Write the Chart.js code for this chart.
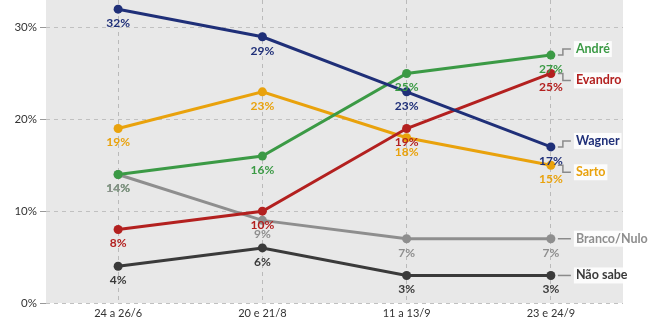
<!DOCTYPE html>
<html>
<head>
<meta charset="utf-8">
<script src="https://cdn.jsdelivr.net/npm/chart.js@4/dist/chart.umd.min.js"></script>
<style>
  html, body { margin: 0; padding: 0; background: #fff; }
  #wrap { width: 657px; height: 322px; position: relative; }
</style>
</head>
<body>
<div id="wrap"><canvas id="poll-chart"></canvas></div>
<script>
/* ── DATA ───────────────────────────────────────────── */
var ROUNDS      = ['24 a 26/6', '20 e 21/8', '11 a 13/9', '23 e 24/9'];
var Y_TICKS     = [0, 10, 20, 30];
var SERIES_NAMES = ['Wagner', 'André', 'Evandro', 'Sarto', 'Branco/Nulo', 'Não sabe'];
var WAGNER      = [32, 29, 23, 17];
var ANDRE       = [14, 16, 25, 27];
var EVANDRO     = [8, 10, 19, 25];
var SARTO       = [19, 23, 18, 15];
var BRANCO_NULO = [14, 9, 7, 7];
var NAO_SABE    = [4, 6, 3, 3];

/* ── STYLE ──────────────────────────────────────────── */
var COLORS    = ['#1f2f78', '#3b9a45', '#b3201f', '#e9a20c', '#8e8e8e', '#3a3a3a'];
// vertical shift of the end label relative to its point (px)
var END_SHIFT = [-6, -6, 7, 7, 0, 0];
var FONT      = 'Lato, "Noto Sans", sans-serif';

function makeSet(i, values) {
    return {
        label: SERIES_NAMES[i],
        data: values,
        borderColor: COLORS[i], backgroundColor: COLORS[i],
        pointBackgroundColor: COLORS[i], pointBorderColor: COLORS[i],
        borderWidth: 3, pointRadius: 4.5, pointHoverRadius: 4.5, pointBorderWidth: 0,
        tension: 0, fill: false, clip: false
    };
}

var plotBg = {
    id: 'plotBg',
    beforeDraw: function(chart) {
        var a = chart.chartArea, c = chart.ctx;
        c.save();
        c.fillStyle = '#e8e8e8';
        c.fillRect(a.left, 0, a.right - a.left, a.bottom);
        c.restore();
    }
};

var labelsPlugin = {
    id: 'pollLabels',
    afterDatasetsDraw: function(chart) {
        var c = chart.ctx;
        c.save();
        c.textAlign = 'center';
        c.textBaseline = 'middle';
        c.font = 'bold 12px ' + FONT;
        chart.data.datasets.forEach(function(ds, i) {
            var meta = chart.getDatasetMeta(i);
            meta.data.forEach(function(pt, j) {
                c.fillStyle = COLORS[i];
                c.fillText(ds.data[j] + '%', pt.x, pt.y + 14);
            });
        });

        // end labels with elbow connectors
        chart.data.datasets.forEach(function(ds, i) {
            var meta = chart.getDatasetMeta(i);
            var last = meta.data[meta.data.length - 1];
            var x = last.x, y = last.y, ly = y + END_SHIFT[i];
            c.strokeStyle = '#8a8a8a';
            c.lineWidth = 1.5;
            c.beginPath();
            c.moveTo(x + 7, y);
            c.lineTo(x + 12, y);
            c.lineTo(x + 12, ly);
            c.lineTo(x + 20, ly);
            c.stroke();

            c.textAlign = 'left';
            c.font = 'bold 12.5px ' + FONT;
            var w = c.measureText(ds.label).width;
            c.fillStyle = 'rgba(255,255,255,0.85)';
            c.fillRect(x + 23, ly - 8, w + 4, 16);
            c.fillStyle = COLORS[i];
            c.fillText(ds.label, x + 25, ly);
        });
        c.restore();
    }
};

new Chart(document.getElementById('poll-chart'), {
    type: 'line',
    data: {
        labels: ROUNDS,
        datasets: [
            makeSet(0, WAGNER),
            makeSet(1, ANDRE),
            makeSet(2, EVANDRO),
            makeSet(3, SARTO),
            makeSet(4, BRANCO_NULO),
            makeSet(5, NAO_SABE)
        ]
    },
    options: {
        responsive: true, maintainAspectRatio: false, animation: false,
        layout: { autoPadding: false, padding: { top: 0, right: 34, left: 0, bottom: 0 } },
        plugins: { legend: { display: false }, tooltip: { enabled: false } },
        scales: {
            x: {
                offset: true,
                afterFit: function(s) { s.height = 19; s.paddingLeft = 0; s.paddingRight = 0; },
                grid: { offset: false, color: '#bababa', drawTicks: false },
                border: { display: false, dash: [4, 4] },
                ticks: { color: '#333', padding: 4, font: { family: FONT, size: 11 } }
            },
            y: {
                min: 0, max: 33,
                afterFit: function(s) { s.width = 46; s.paddingTop = 0; s.paddingBottom = 0; },
                afterBuildTicks: function(s) {
                    s.ticks = Y_TICKS.map(function(v) { return { value: v }; });
                },
                grid: { color: '#c0c0c0', tickLength: 6, tickColor: '#999' },
                border: { display: false, dash: [4, 4] },
                ticks: {
                    color: '#333', padding: 3, font: { family: FONT, size: 11.5 },
                    callback: function(v) { return v + '%'; }
                }
            }
        }
    },
    plugins: [plotBg, labelsPlugin]
});
</script>
</body>
</html>
